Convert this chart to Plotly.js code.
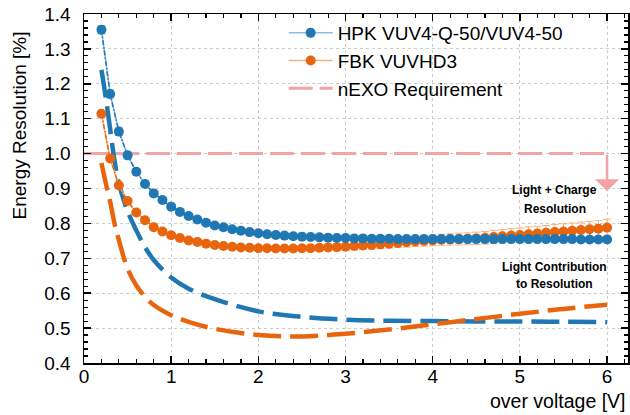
<!DOCTYPE html>
<html>
<head>
<meta charset="utf-8">
<script src="https://cdn.plot.ly/plotly-3.0.1.min.js"></script>
<style>html,body{margin:0;padding:0;background:#fff;}#chart{width:630px;height:415px;}</style>
</head>
<body>
<div id="chart"></div>
<script>
// over voltage [V] for the measured points
const overVoltage = [0.2,0.3,0.4,0.5,0.6,0.7,0.8,0.9,1.0,1.1,1.2,1.3,1.4,1.5,1.6,1.7,1.8,1.9,2.0,2.1,2.2,2.3,2.4,2.5,2.6,2.7,2.8,2.9,3.0,3.1,3.2,3.3,3.4,3.5,3.6,3.7,3.8,3.9,4.0,4.1,4.2,4.3,4.4,4.5,4.6,4.7,4.8,4.9,5.0,5.1,5.2,5.3,5.4,5.5,5.6,5.7,5.8,5.9,6.0];
// HPK VUV4-Q-50/VUV4-50 energy resolution [%]
const hpkRes = [1.355,1.171,1.063,0.995,0.948,0.913,0.886,0.867,0.848,0.833,0.821,0.811,0.802,0.794,0.789,0.783,0.779,0.775,0.772,0.769,0.767,0.765,0.763,0.762,0.761,0.760,0.759,0.758,0.758,0.757,0.757,0.756,0.756,0.756,0.755,0.755,0.755,0.755,0.755,0.755,0.755,0.755,0.755,0.755,0.755,0.755,0.755,0.755,0.755,0.755,0.755,0.755,0.755,0.755,0.755,0.754,0.754,0.754,0.754];
const hpkErr = [0.012,0.012,0.011,0.010,0.009,0.008,0.008,0.008,0.007,0.007,0.007,0.007,0.007,0.007,0.007,0.007,0.007,0.007,0.007,0.007,0.007,0.007,0.007,0.007,0.007,0.007,0.007,0.007,0.007,0.007,0.007,0.007,0.007,0.007,0.007,0.007,0.007,0.007,0.007,0.007,0.007,0.007,0.007,0.007,0.007,0.007,0.007,0.007,0.007,0.007,0.007,0.007,0.007,0.007,0.007,0.007,0.007,0.007,0.007];
// FBK VUVHD3 energy resolution [%]
const fbkRes = [1.114,0.986,0.909,0.864,0.831,0.809,0.789,0.777,0.766,0.758,0.751,0.747,0.742,0.738,0.735,0.733,0.731,0.730,0.729,0.729,0.728,0.728,0.728,0.729,0.729,0.730,0.731,0.732,0.733,0.735,0.737,0.738,0.740,0.742,0.744,0.746,0.748,0.750,0.751,0.753,0.754,0.755,0.756,0.757,0.759,0.761,0.763,0.765,0.767,0.769,0.771,0.773,0.775,0.777,0.779,0.781,0.783,0.785,0.788];
const fbkErr = [0.008,0.007,0.006,0.006,0.006,0.006,0.006,0.006,0.006,0.006,0.006,0.006,0.006,0.006,0.006,0.006,0.006,0.006,0.007,0.007,0.007,0.007,0.008,0.008,0.008,0.009,0.009,0.010,0.010,0.011,0.011,0.012,0.012,0.013,0.013,0.014,0.014,0.015,0.015,0.016,0.016,0.017,0.017,0.018,0.018,0.019,0.019,0.020,0.020,0.021,0.021,0.021,0.022,0.022,0.022,0.023,0.023,0.023,0.024];
// Light contribution to resolution
const lightX = [0.2,0.25,0.3,0.35,0.4,0.5,0.6,0.7,0.8,1.0,1.2,1.5,2.0,2.5,3.0,3.5,4.0,4.5,5.0,5.5,6.0];
const hpkLight = [1.24,1.16,1.07,0.98,0.915,0.835,0.78,0.732,0.695,0.645,0.613,0.583,0.548,0.532,0.524,0.521,0.520,0.519,0.519,0.518,0.517];
const fbkLight = [0.973,0.915,0.862,0.8,0.752,0.67,0.622,0.59,0.566,0.537,0.518,0.498,0.480,0.476,0.484,0.496,0.511,0.526,0.541,0.555,0.567];
// nEXO requirement
const reqX = [0, 6];
const reqY = [1.0, 1.0];
const reqArrowTip = 0.892;

const BLUE = '#1f77b4', ORANGE = '#e8650e', PINK = '#f2a3a3';
const BLUE_L = '#8dbde0', ORANGE_L = '#f6b07c';

const traces = [
  {x: reqX, y: reqY, mode: 'lines', name: 'nEXO Requirement', legendrank: 3,
   line: {color: PINK, width: 3, dash: '24px,7px'}},
  {x: lightX, y: hpkLight, mode: 'lines', showlegend: false, hoverinfo: 'skip',
   line: {color: BLUE, width: 4.5, dash: '28px,9px', shape: 'spline'}},
  {x: lightX, y: fbkLight, mode: 'lines', showlegend: false, hoverinfo: 'skip',
   line: {color: ORANGE, width: 4.5, dash: '28px,9px', shape: 'spline'}},
  {x: overVoltage, y: fbkRes, mode: 'lines+markers', name: 'FBK VUVHD3', legendrank: 2,
   line: {color: ORANGE_L, width: 1.5},
   marker: {color: ORANGE, size: 10},
   error_y: {type: 'data', array: fbkErr, visible: true, color: ORANGE_L, thickness: 1, width: 4}},
  {x: overVoltage, y: fbkRes, mode: 'lines', showlegend: false, hoverinfo: 'skip',
   line: {color: ORANGE, width: 1.5, dash: '5px,2px,1.5px,2px'}},
  {x: overVoltage, y: hpkRes, mode: 'lines+markers', name: 'HPK VUV4-Q-50/VUV4-50', legendrank: 1,
   line: {color: BLUE_L, width: 1.5},
   marker: {color: BLUE, size: 10},
   error_y: {type: 'data', array: hpkErr, visible: true, color: BLUE_L, thickness: 1, width: 4}},
  {x: overVoltage, y: hpkRes, mode: 'lines', showlegend: false, hoverinfo: 'skip',
   line: {color: BLUE, width: 1.5, dash: '5px,2px,1.5px,2px'}}
];

const axisCommon = {
  ticks: 'inside', ticklen: 7, tickwidth: 1.5, tickcolor: '#000',
  showline: true, linecolor: '#000', linewidth: 1.5, mirror: 'allticks',
  showgrid: true, gridcolor: '#cccccc', griddash: 'dot', gridwidth: 1,
  zeroline: false, tickfont: {family: 'Liberation Sans, Arial, sans-serif', size: 19, color: '#000'}
};

const layout = {
  width: 630, height: 415,
  margin: {l: 84, r: 2, t: 14, b: 52},
  paper_bgcolor: '#fff', plot_bgcolor: '#fff',
  font: {family: 'Liberation Sans, Arial, sans-serif', color: '#000'},
  showlegend: true,
  legend: {x: 0.367, y: 1.0, xanchor: 'left', yanchor: 'top', bgcolor: 'rgba(0,0,0,0)',
           font: {size: 19, color: '#000'}, itemwidth: 44},
  xaxis: Object.assign({}, axisCommon, {range: [0, 6.24], tick0: 0, dtick: 1, ticklabelstandoff: -4,
         minor: {dtick: 0.2, ticks: 'inside', ticklen: 4, tickwidth: 1.2, tickcolor: '#000', showgrid: false}}),
  yaxis: Object.assign({}, axisCommon, {range: [0.4, 1.4], tick0: 0.4, dtick: 0.1, tickformat: '.1f', ticklabelstandoff: 8,
         minor: {dtick: 0.02, ticks: 'inside', ticklen: 4, tickwidth: 1.2, tickcolor: '#000', showgrid: false}}),
  annotations: [
    {xref: 'paper', yref: 'paper', x: 1, y: -0.108, xanchor: 'right', yanchor: 'middle', showarrow: false,
     text: 'over voltage [V]', font: {size: 19.5}},
    {xref: 'paper', yref: 'paper', x: -0.118, y: 0.68, xanchor: 'center', yanchor: 'middle', showarrow: false,
     textangle: -90, text: 'Energy Resolution [%]', font: {size: 19}},
    {x: 5.398, y: 0.895, showarrow: false, text: '<b>Light + Charge</b>', font: {size: 12}},
    {x: 5.398, y: 0.842, showarrow: false, text: '<b>Resolution</b>', font: {size: 12}},
    {x: 5.398, y: 0.676, showarrow: false, text: '<b>Light Contribution</b>', font: {size: 12}},
    {x: 5.398, y: 0.626, showarrow: false, text: '<b>to Resolution</b>', font: {size: 12}},
    {x: reqX[1], y: reqArrowTip, ax: reqX[1], ay: reqY[1], axref: 'x', ayref: 'y', text: '',
     showarrow: true, arrowhead: 1, arrowsize: 1.6, arrowwidth: 2.5, arrowcolor: PINK, standoff: 0, startstandoff: 0}
  ]
};

Plotly.newPlot('chart', traces, layout, {displayModeBar: false, staticPlot: true});
</script>
</body>
</html>
